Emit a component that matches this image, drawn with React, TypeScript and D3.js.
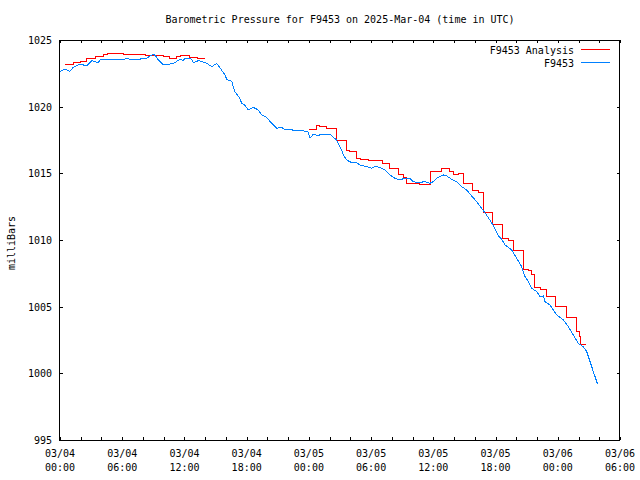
import React, { useEffect, useRef } from "react";
import * as d3 from "d3";

// hours since 2025-03-04 00:00 UTC, pressure in millibars
const obsHours = [
  0, 0.48, 0.96, 1.28, 1.93, 2.41, 2.57, 3.06, 3.69, 3.86, 5.47, 5.95, 6.43, 7.4, 7.88, 8.36,
  8.68, 9.06, 9.26, 9.48, 9.9, 10.6, 11.09, 11.57, 11.86, 12.05, 12.7, 12.85, 13.34, 13.82,
  14.15, 14.63, 15.11, 15.43, 15.91, 16.07, 16.56, 16.71, 16.88, 17.36, 17.52, 17.84, 18.16,
  18.64, 19.12, 19.45, 19.93, 20.41, 20.9, 21.38, 21.7, 22.18, 22.66, 23.31, 23.63, 23.9,
  24.11, 24.43, 24.88, 25.17, 25.55, 26.04, 26.35, 26.68, 26.84, 27.16, 27.32, 27.65, 28.13,
  28.61, 28.93, 29.58, 30.06, 30.38, 30.86, 31.34, 31.82, 32.3, 32.79, 33.27, 33.75, 34.07,
  34.55, 35.2, 35.68, 36.0, 36.33, 36.96, 37.29, 37.77, 38.25, 38.74, 39.22, 39.7, 40.18,
  40.66, 41.15, 41.78, 42.27, 42.59, 42.91, 43.56, 44.04, 44.52, 44.84, 45.16, 45.49, 45.97,
  46.29, 46.61, 46.77, 47.25, 47.9, 48.54, 49.02, 49.5, 49.98, 50.46, 50.79, 51.11, 51.43,
  51.83,
];
const obsValues = [
  1022.65, 1022.8, 1022.65, 1022.95, 1023.18, 1023.1, 1023.05, 1023.45, 1023.3, 1023.5,
  1023.57, 1023.5, 1023.6, 1023.5, 1023.6, 1023.62, 1023.8, 1023.95, 1023.75, 1023.5,
  1023.2, 1023.2, 1023.3, 1023.57, 1023.45, 1023.63, 1023.57, 1023.3, 1023.45, 1023.35,
  1023.25, 1023.0, 1023.25, 1022.9, 1022.4, 1022.05, 1021.9, 1021.5, 1021.1, 1020.6,
  1020.25, 1020.1, 1019.75, 1019.95, 1019.75, 1019.4, 1019.2, 1018.75, 1018.38, 1018.45,
  1018.25, 1018.3, 1018.2, 1018.25, 1018.13, 1018.15, 1017.63, 1017.95, 1017.8, 1017.95,
  1017.95, 1017.95, 1017.7, 1017.5, 1017.25, 1016.75, 1016.38, 1016.0, 1015.8, 1015.8,
  1015.63, 1015.5, 1015.38, 1015.5, 1015.45, 1015.25, 1014.88, 1014.63, 1014.5, 1014.65,
  1014.6, 1014.38, 1014.3, 1014.38, 1014.25, 1014.38, 1014.63, 1014.88, 1014.8, 1014.55,
  1014.38, 1014.0, 1013.75, 1013.3, 1012.88, 1012.38, 1011.85, 1011.1, 1010.3, 1010.05,
  1009.63, 1009.25, 1008.63, 1008.0, 1007.25, 1006.88, 1006.38, 1006.13, 1005.75, 1005.8,
  1005.38, 1005.13, 1004.38, 1004.0, 1003.5, 1002.88, 1002.25, 1002.0, 1001.63, 1000.88,
  1000.13, 999.2,
];

// analysis, first run
const anaHoursA = [0.5, 1.3, 2.0, 2.6, 3.4, 4.2, 4.6, 6.1, 8.2, 10.0, 10.6, 11.2, 11.6, 12.5, 13.3, 14.0];
const anaValuesA = [
  1023.13, 1023.3, 1023.42, 1023.63, 1023.8, 1023.95, 1024.0, 1023.95, 1023.85, 1023.75,
  1023.65, 1023.75, 1023.85, 1023.7, 1023.63, 1023.63,
];

// analysis, second run
const anaHoursB = [
  24.0, 24.7, 25.0, 25.7, 26.7, 27.6, 27.9, 28.6, 29.0, 29.7, 30.7, 30.95, 31.1, 31.75, 32.65,
  33.1, 33.4, 34.7, 35.7, 36.8, 37.6, 37.9, 38.4, 38.9, 39.8, 40.4, 40.8, 41.7, 42.7, 43.2,
  43.7, 44.7, 45.2, 45.5, 45.8, 46.3, 46.9, 47.8, 48.8, 49.8, 50.1, 50.2, 50.7,
];
const anaValuesB = [
  1018.3, 1018.6, 1018.5, 1018.38, 1017.5, 1016.72, 1016.63, 1016.15, 1016.05, 1015.95,
  1016.0, 1015.95, 1015.75, 1015.38, 1014.88, 1014.7, 1014.25, 1014.18, 1015.13, 1015.38,
  1015.13, 1014.95, 1015.0, 1014.25, 1013.75, 1013.6, 1012.1, 1011.13, 1010.13, 1010.0,
  1009.18, 1007.8, 1007.75, 1007.45, 1006.45, 1006.3, 1005.8, 1005.05, 1004.2, 1003.13,
  1002.75, 1002.2, 1002.2,
];

const xTickHours = [0, 6, 12, 18, 24, 30, 36, 42, 48, 54];
const xTickDates = ["03/04", "03/04", "03/04", "03/04", "03/05", "03/05", "03/05", "03/05", "03/06", "03/06"];
const xTickTimes = ["00:00", "06:00", "12:00", "18:00", "00:00", "06:00", "12:00", "18:00", "00:00", "06:00"];
const yTicks = [995, 1000, 1005, 1010, 1015, 1020, 1025];

const RED = "#ff0000";
const BLUE = "#0080ff";
const FONT = "'DejaVu Sans Mono', monospace";

export default function App() {
  const svgRef = useRef<SVGSVGElement>(null);

  useEffect(() => {
    if (!svgRef.current) return;
    const svg = d3.select(svgRef.current);
    svg.selectAll("*").remove();

    const left = 60, right = 620, top = 40, bottom = 440;
    const x = d3.scaleLinear().domain([0, 54]).range([left, right]);
    const y = d3.scaleLinear().domain([995, 1025]).range([bottom, top]);

    svg.append("rect").attr("width", 640).attr("height", 480).attr("fill", "#fff");

    // title
    svg.append("text")
      .attr("x", 340).attr("y", 23)
      .attr("text-anchor", "middle")
      .style("font-family", FONT).style("font-size", "10px")
      .text("Barometric Pressure for F9453 on 2025-Mar-04 (time in UTC)");

    // y label
    svg.append("text")
      .attr("transform", "translate(15,243) rotate(-90)")
      .attr("text-anchor", "middle")
      .style("font-family", FONT).style("font-size", "10px")
      .text("milliBars");

    const axes = svg.append("g")
      .attr("stroke", "#000").attr("stroke-width", 1)
      .attr("shape-rendering", "crispEdges");

    // x ticks every 2 hours, bottom and top
    d3.range(0, 55, 2).forEach((h) => {
      const px = Math.round(x(h)) + 0.5;
      axes.append("line").attr("x1", px).attr("x2", px).attr("y1", bottom).attr("y2", bottom - 3);
      axes.append("line").attr("x1", px).attr("x2", px).attr("y1", top).attr("y2", top + 3);
    });

    // y ticks, left and right
    yTicks.forEach((v) => {
      const py = Math.round(y(v)) + 0.5;
      axes.append("line").attr("x1", left).attr("x2", left + 3).attr("y1", py).attr("y2", py);
      axes.append("line").attr("x1", right - 3).attr("x2", right).attr("y1", py).attr("y2", py);
    });

    axes.append("rect")
      .attr("x", left - 0.5).attr("y", top + 0.5)
      .attr("width", right - left).attr("height", bottom - top)
      .attr("fill", "none");

    const labels = svg.append("g").style("font-family", FONT).style("font-size", "10px");

    labels.selectAll("text.y")
      .data(yTicks)
      .join("text")
      .attr("class", "y")
      .attr("x", 52)
      .attr("y", (d) => y(d) + 4)
      .attr("text-anchor", "end")
      .text((d) => String(d));

    xTickHours.forEach((h, i) => {
      labels.append("text")
        .attr("x", x(h)).attr("y", 457)
        .attr("text-anchor", "middle")
        .text(xTickDates[i]);
      labels.append("text")
        .attr("x", x(h)).attr("y", 471)
        .attr("text-anchor", "middle")
        .text(xTickTimes[i]);
    });

    const stepLine = d3.line<number>()
      .x((d) => x(d))
      .curve(d3.curveStepAfter);

    const plot = svg.append("g").attr("shape-rendering", "crispEdges").attr("fill", "none");

    plot.append("path")
      .attr("d", stepLine.y((_, i) => y(anaValuesA[i]))(anaHoursA))
      .attr("stroke", RED).attr("stroke-width", 1);
    plot.append("path")
      .attr("d", stepLine.y((_, i) => y(anaValuesB[i]))(anaHoursB))
      .attr("stroke", RED).attr("stroke-width", 1);

    const obsLine = d3.line<number>()
      .x((d) => x(d))
      .y((_, i) => y(obsValues[i]));
    plot.append("path")
      .attr("d", obsLine(obsHours))
      .attr("stroke", BLUE).attr("stroke-width", 1);

    // legend
    const legend = [
      { label: "F9453 Analysis", color: RED },
      { label: "F9453", color: BLUE },
    ];
    legend.forEach((item, i) => {
      const ly = 49.5 + i * 13;
      labels.append("text")
        .attr("x", 574).attr("y", ly + 4)
        .attr("text-anchor", "end")
        .text(item.label);
      svg.append("line")
        .attr("x1", 581).attr("x2", 610)
        .attr("y1", ly).attr("y2", ly)
        .attr("stroke", item.color).attr("stroke-width", 1)
        .attr("shape-rendering", "crispEdges");
    });
  }, []);

  return (
    <svg
      ref={svgRef}
      width={640}
      height={480}
      style={{ position: "absolute", left: 0, top: 0, display: "block" }}
    />
  );
}
